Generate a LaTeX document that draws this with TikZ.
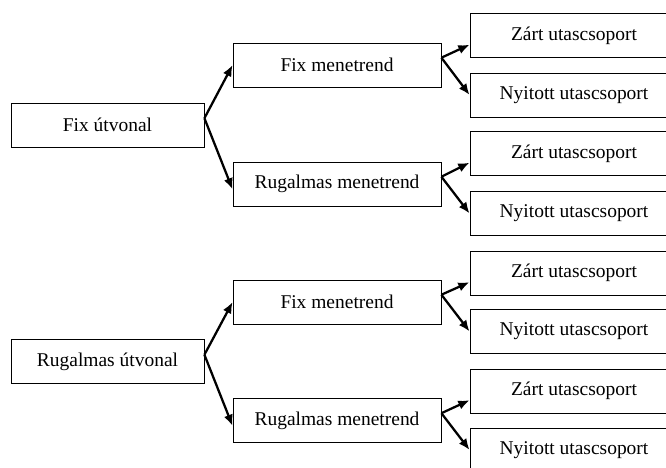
\documentclass[tikz,border=0pt]{standalone}
\usepackage{fontspec}
\setmainfont{Liberation Serif}
\usetikzlibrary{arrows.meta}

\begin{document}
\begin{tikzpicture}[x=0.75pt,y=-0.75pt,
  every node/.style={font=\fontsize{14.6}{17}\selectfont},
  rootbox/.style={draw,line width=0.6pt,minimum width=144.75pt,minimum height=33pt,inner sep=0pt},
  midbox/.style={draw,line width=0.6pt,minimum width=156pt,minimum height=33pt,inner sep=0pt},
  leafbox/.style={midbox},
  arr/.style={-{Latex[length=8.5pt,width=7pt]},line width=1.7pt}]
\useasboundingbox (0,0) rectangle (666,467);
\clip (0,0) rectangle (666,467);
            \node[rootbox] (R1) at (107.5,125) {Fix útvonal};
            \node[rootbox] (R2) at (107.5,361.5) {Rugalmas útvonal};
            \node[midbox] (M1) at (337,65) {Fix menetrend};
            \node[midbox] (M2) at (337,184) {Rugalmas menetrend};
            \node[midbox] (M3) at (337,302) {Fix menetrend};
            \node[midbox] (M4) at (337,420.5) {Rugalmas menetrend};
            \node[leafbox] (L1) at (574,35.5) {Zárt utascsoport};
            \node[leafbox] (L2) at (574,95) {Nyitott utascsoport};
            \node[leafbox] (L3) at (574,153.5) {Zárt utascsoport};
            \node[leafbox] (L4) at (574,213.5) {Nyitott utascsoport};
            \node[leafbox] (L5) at (574,273) {Zárt utascsoport};
            \node[leafbox] (L6) at (574,331.5) {Nyitott utascsoport};
            \node[leafbox] (L7) at (574,391) {Zárt utascsoport};
            \node[leafbox] (L8) at (574,450) {Nyitott utascsoport};
            \draw[arr] (R1.4) -- (M1.west);
            \draw[arr] (R1.4) -- (M2.183);
            \draw[arr] (R2.4) -- (M3.west);
            \draw[arr] (R2.4) -- (M4.183);
            \draw[arr] (M1.4) -- (L1.185);
            \draw[arr] (M1.4) -- (L2.west);
            \draw[arr] (M2.4) -- (L3.185);
            \draw[arr] (M2.4) -- (L4.west);
            \draw[arr] (M3.4) -- (L5.185);
            \draw[arr] (M3.4) -- (L6.west);
            \draw[arr] (M4.4) -- (L7.185);
            \draw[arr] (M4.4) -- (L8.west);
        \end{tikzpicture}
\end{document}
